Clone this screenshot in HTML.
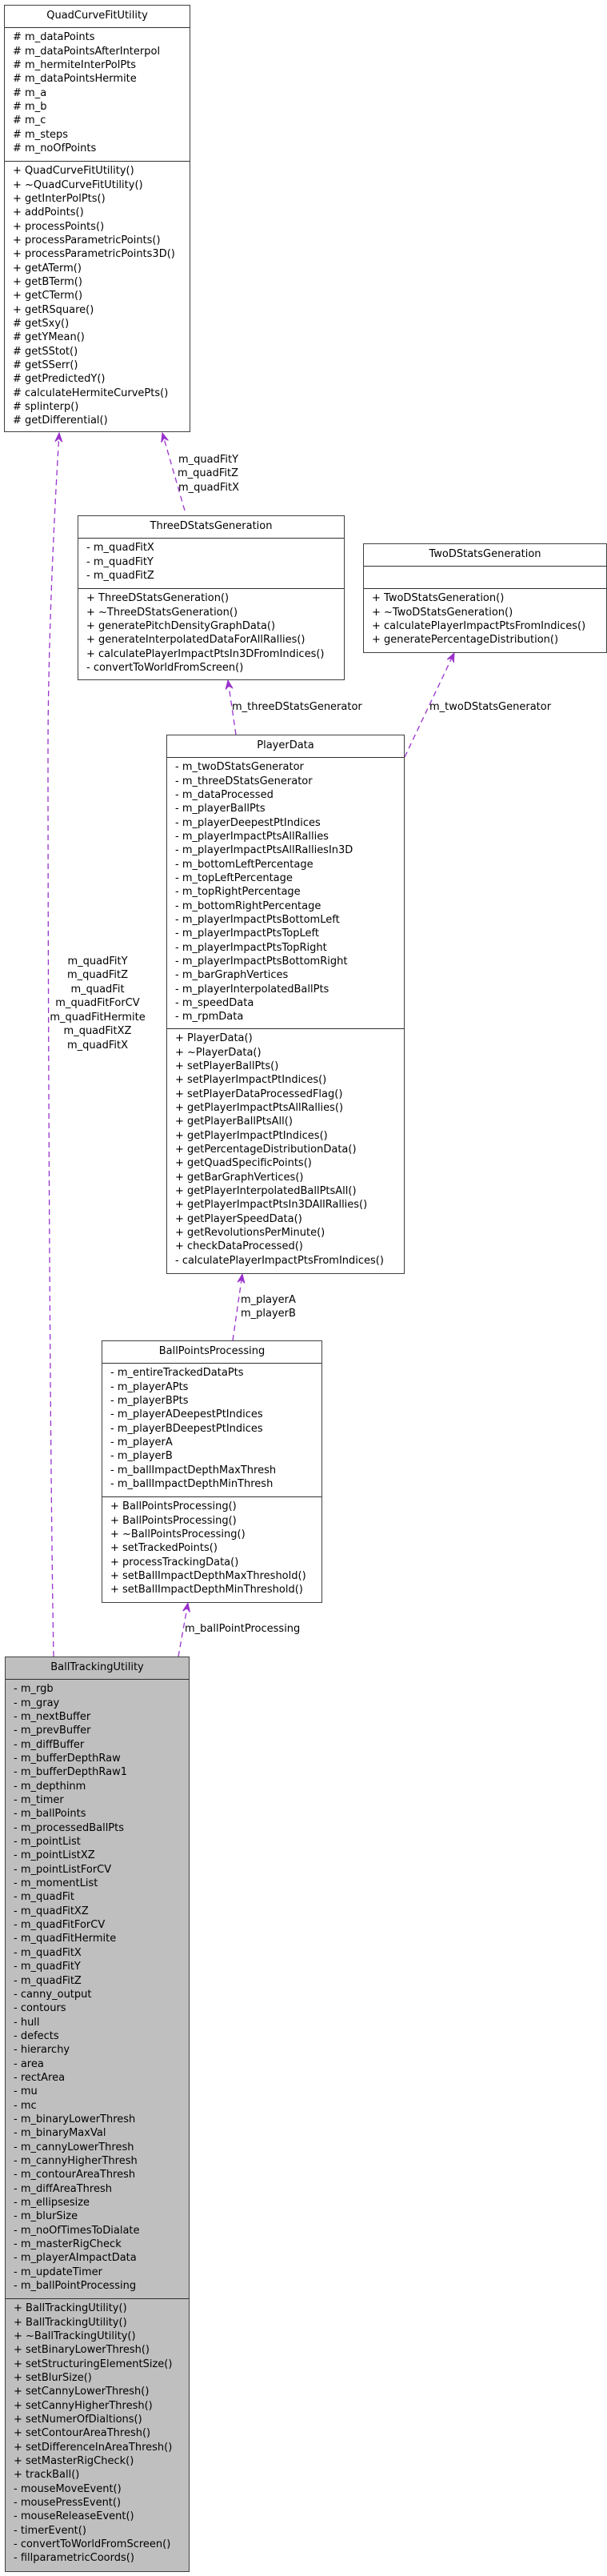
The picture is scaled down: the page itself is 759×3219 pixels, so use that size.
<!DOCTYPE html>
<html><head><meta charset="utf-8">
<style>
body{margin:0;background:#fff;}
#c{position:relative;width:759px;height:3219px;overflow:hidden;font-family:"DejaVu Sans","Liberation Sans",sans-serif;font-size:13px;color:#000;}
.b{position:absolute;box-sizing:border-box;border:1.3px solid #404040;background:#fff;}
.g{background:#bfbfbf;}
.h{box-sizing:border-box;border-bottom:1.3px solid #303030;text-align:center;line-height:26px;}
.s{box-sizing:border-box;border-bottom:1.3px solid #303030;padding:3.3px 0 0 10px;line-height:17.35px;white-space:pre;}
.m{box-sizing:border-box;padding:3.3px 0 0 10px;line-height:17.35px;white-space:pre;}
svg{position:absolute;left:0;top:0;}
.t{font-family:"DejaVu Sans","Liberation Sans",sans-serif;font-size:13px;fill:#000;}
</style></head><body><div id="c">

<svg width="759" height="3219">
<g fill="none" stroke="#9a32cd" stroke-width="1.3" stroke-dasharray="7,5">
<path d="M231,638 L205,548"/>
<path d="M67,2070 C62,1800 60,1200 60,940 C60,800 68,640 73.6,548"/>
<path d="M295,918 L286,857"/>
<path d="M506,946 L565,822"/>
<path d="M291,1675 L302,1599"/>
<path d="M223,2070 L233.8,2010"/>
</g>
<g fill="#9a32cd" stroke="#9a32cd" stroke-width="1">
<polygon points="210.37,550.31 203,541 201.73,552.81 204.94,547.72"/>
<polygon points="77.82,552.25 74,541 68.84,551.71 73.58,547.99"/>
<polygon points="291.05,860.25 285,850 282.15,861.55 286.02,856.92"/>
<polygon points="567.32,827.87 568,816 559.2,823.99 564.99,822.32"/>
<polygon points="305.88,1603.52 303,1592 296.98,1602.24 302,1598.92"/>
<polygon points="237.49,2014.61 235,2003 228.63,2013.03 233.77,2009.89"/>
</g>
<g class="t">
<text x="223" y="578">m_quadFitY</text>
<text x="222" y="595">m_quadFitZ</text>
<text x="223" y="613">m_quadFitX</text>
<text x="290" y="887">m_threeDStatsGenerator</text>
<text x="537" y="887">m_twoDStatsGenerator</text>
<text x="301" y="1628">m_playerA</text>
<text x="301" y="1645">m_playerB</text>
<text x="231" y="2039">m_ballPointProcessing</text>
</g>
<g class="t" text-anchor="middle">
<text x="122" y="1205">m_quadFitY</text>
<text x="122" y="1222">m_quadFitZ</text>
<text x="122" y="1240">m_quadFit</text>
<text x="122" y="1257">m_quadFitForCV</text>
<text x="122" y="1275">m_quadFitHermite</text>
<text x="122" y="1292">m_quadFitXZ</text>
<text x="122" y="1310">m_quadFitX</text>
</g>
</svg>

<div class="b" style="left:5px;top:6px;width:233px;height:534px;">
<div class="h" style="height:28px;">QuadCurveFitUtility</div>
<div class="s" style="height:167px;"># m_dataPoints
# m_dataPointsAfterInterpol
# m_hermiteInterPolPts
# m_dataPointsHermite
# m_a
# m_b
# m_c
# m_steps
# m_noOfPoints</div>
<div class="m">+ QuadCurveFitUtility()
+ ~QuadCurveFitUtility()
+ getInterPolPts()
+ addPoints()
+ processPoints()
+ processParametricPoints()
+ processParametricPoints3D()
+ getATerm()
+ getBTerm()
+ getCTerm()
+ getRSquare()
# getSxy()
# getYMean()
# getSStot()
# getSSerr()
# getPredictedY()
# calculateHermiteCurvePts()
# splinterp()
# getDifferential()</div>
</div>

<div class="b" style="left:97px;top:644px;width:334px;height:206px;">
<div class="h" style="height:28px;">ThreeDStatsGeneration</div>
<div class="s" style="height:63px;">- m_quadFitX
- m_quadFitY
- m_quadFitZ</div>
<div class="m">+ ThreeDStatsGeneration()
+ ~ThreeDStatsGeneration()
+ generatePitchDensityGraphData()
+ generateInterpolatedDataForAllRallies()
+ calculatePlayerImpactPtsIn3DFromIndices()
- convertToWorldFromScreen()</div>
</div>

<div class="b" style="left:454px;top:679px;width:305px;height:137px;">
<div class="h" style="height:28px;">TwoDStatsGeneration</div>
<div class="s" style="height:28px;"></div>
<div class="m">+ TwoDStatsGeneration()
+ ~TwoDStatsGeneration()
+ calculatePlayerImpactPtsFromIndices()
+ generatePercentageDistribution()</div>
</div>

<div class="b" style="left:208px;top:918px;width:298px;height:674px;">
<div class="h" style="height:28px;">PlayerData</div>
<div class="s" style="height:339px;">- m_twoDStatsGenerator
- m_threeDStatsGenerator
- m_dataProcessed
- m_playerBallPts
- m_playerDeepestPtIndices
- m_playerImpactPtsAllRallies
- m_playerImpactPtsAllRalliesIn3D
- m_bottomLeftPercentage
- m_topLeftPercentage
- m_topRightPercentage
- m_bottomRightPercentage
- m_playerImpactPtsBottomLeft
- m_playerImpactPtsTopLeft
- m_playerImpactPtsTopRight
- m_playerImpactPtsBottomRight
- m_barGraphVertices
- m_playerInterpolatedBallPts
- m_speedData
- m_rpmData</div>
<div class="m">+ PlayerData()
+ ~PlayerData()
+ setPlayerBallPts()
+ setPlayerImpactPtIndices()
+ setPlayerDataProcessedFlag()
+ getPlayerImpactPtsAllRallies()
+ getPlayerBallPtsAll()
+ getPlayerImpactPtIndices()
+ getPercentageDistributionData()
+ getQuadSpecificPoints()
+ getBarGraphVertices()
+ getPlayerInterpolatedBallPtsAll()
+ getPlayerImpactPtsIn3DAllRallies()
+ getPlayerSpeedData()
+ getRevolutionsPerMinute()
+ checkDataProcessed()
- calculatePlayerImpactPtsFromIndices()</div>
</div>

<div class="b" style="left:127px;top:1675px;width:276px;height:328px;">
<div class="h" style="height:28px;">BallPointsProcessing</div>
<div class="s" style="height:167px;">- m_entireTrackedDataPts
- m_playerAPts
- m_playerBPts
- m_playerADeepestPtIndices
- m_playerBDeepestPtIndices
- m_playerA
- m_playerB
- m_ballImpactDepthMaxThresh
- m_ballImpactDepthMinThresh</div>
<div class="m">+ BallPointsProcessing()
+ BallPointsProcessing()
+ ~BallPointsProcessing()
+ setTrackedPoints()
+ processTrackingData()
+ setBallImpactDepthMaxThreshold()
+ setBallImpactDepthMinThreshold()</div>
</div>

<div class="b g" style="left:6px;top:2070px;width:231px;height:1144px;">
<div class="h" style="height:28px;">BallTrackingUtility</div>
<div class="s" style="height:774px;">- m_rgb
- m_gray
- m_nextBuffer
- m_prevBuffer
- m_diffBuffer
- m_bufferDepthRaw
- m_bufferDepthRaw1
- m_depthinm
- m_timer
- m_ballPoints
- m_processedBallPts
- m_pointList
- m_pointListXZ
- m_pointListForCV
- m_momentList
- m_quadFit
- m_quadFitXZ
- m_quadFitForCV
- m_quadFitHermite
- m_quadFitX
- m_quadFitY
- m_quadFitZ
- canny_output
- contours
- hull
- defects
- hierarchy
- area
- rectArea
- mu
- mc
- m_binaryLowerThresh
- m_binaryMaxVal
- m_cannyLowerThresh
- m_cannyHigherThresh
- m_contourAreaThresh
- m_diffAreaThresh
- m_ellipsesize
- m_blurSize
- m_noOfTimesToDialate
- m_masterRigCheck
- m_playerAImpactData
- m_updateTimer
- m_ballPointProcessing</div>
<div class="m">+ BallTrackingUtility()
+ BallTrackingUtility()
+ ~BallTrackingUtility()
+ setBinaryLowerThresh()
+ setStructuringElementSize()
+ setBlurSize()
+ setCannyLowerThresh()
+ setCannyHigherThresh()
+ setNumerOfDialtions()
+ setContourAreaThresh()
+ setDifferenceInAreaThresh()
+ setMasterRigCheck()
+ trackBall()
- mouseMoveEvent()
- mousePressEvent()
- mouseReleaseEvent()
- timerEvent()
- convertToWorldFromScreen()
- fillparametricCoords()</div>
</div>

</div></body></html>
